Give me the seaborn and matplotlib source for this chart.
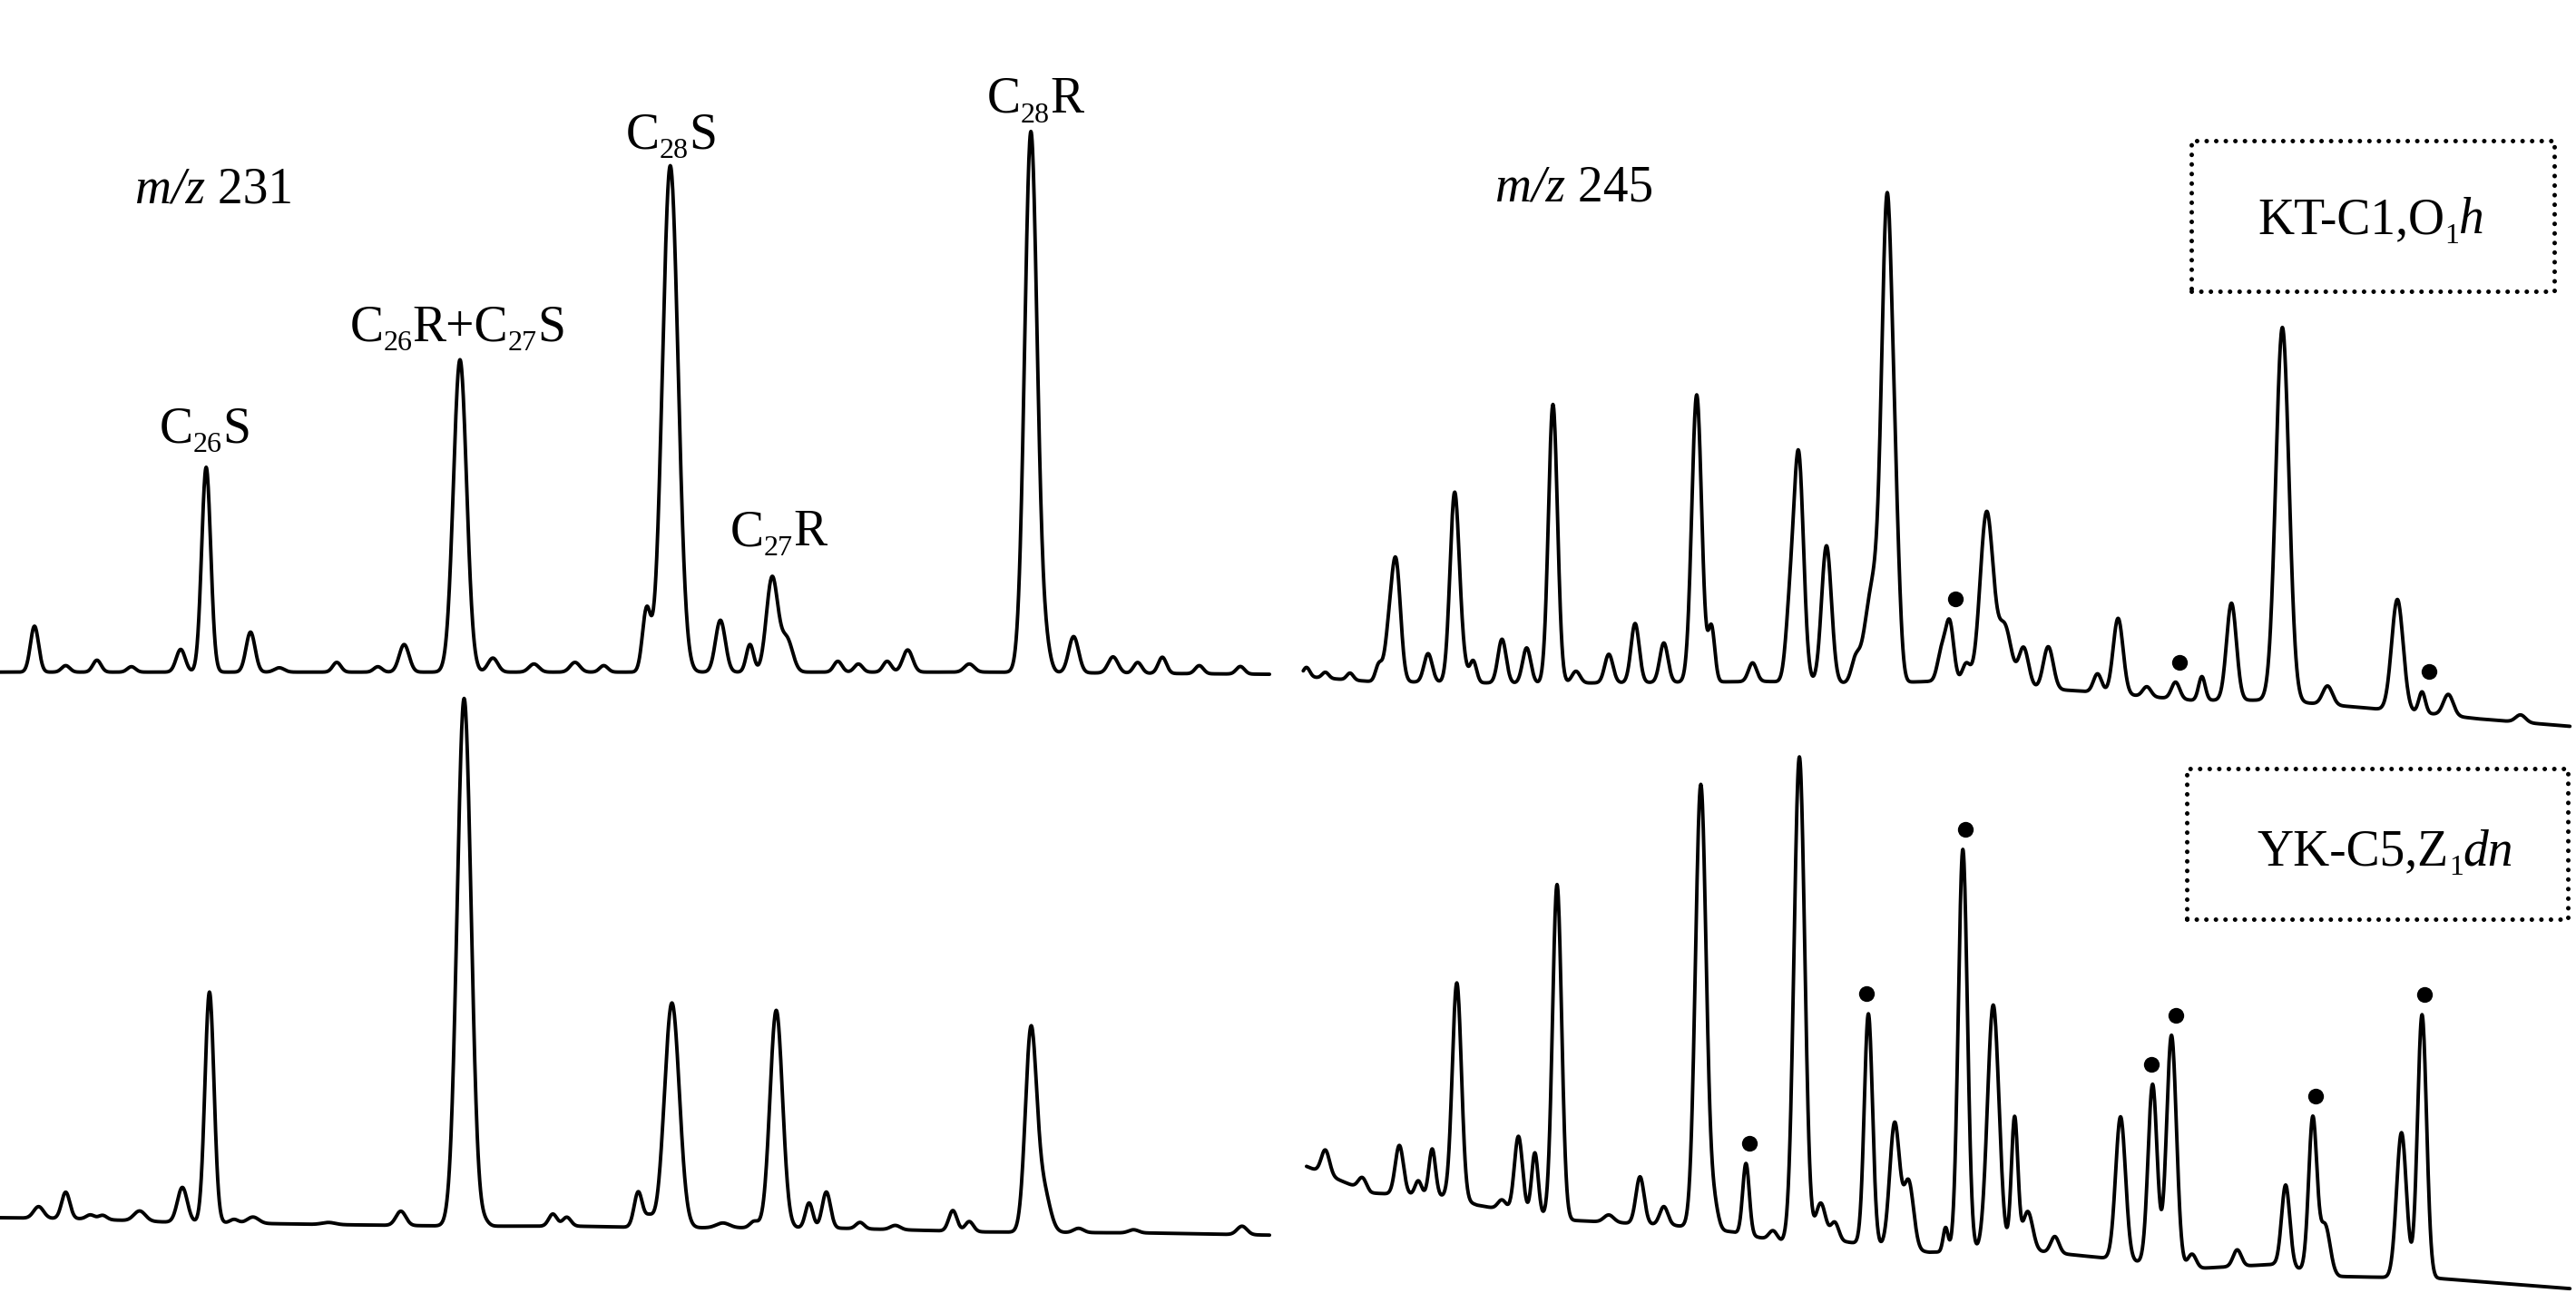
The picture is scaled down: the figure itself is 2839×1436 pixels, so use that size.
import numpy as np
import pandas as pd
import seaborn as sns
import matplotlib.pyplot as plt
from matplotlib.patches import Rectangle
from matplotlib import transforms

# ---------------------------------------------------------------- data
# peaks: scan number, abundance (% of largest peak), width (sigma, scans)
# m/z 231, KT-C1 (top left)
tl_pos = [42, 80, 118, 160, 220, 251, 305, 340, 410, 460, 492, 560, 600, 650, 700, 735,
          787, 816, 877, 913, 940, 958, 1020, 1045, 1080, 1105, 1180, 1255, 1272, 1307,
          1355, 1385, 1415, 1460, 1510]
tl_hgt = [8.5, 1.2, 2.2, 1.0, 4.2, 37.9, 7.4, 0.8, 1.8, 1.0, 5.1, 57.8, 2.6, 1.5, 1.8, 1.2,
          11.2, 93.7, 9.6, 5.1, 17.5, 6.0, 2.0, 1.5, 2.0, 4.1, 1.5, 100, 5.0, 6.7,
          3.0, 2.0, 3.0, 1.5, 1.4]
tl_sig = [5, 5, 5, 5, 5.5, 5.5, 5.5, 6, 5, 5, 6, 8, 6, 6, 6, 5,
          5, 9.5, 6, 4.5, 7, 7, 5, 5, 5, 6, 6, 7.6, 6, 6,
          6, 5, 5, 5, 5]
tl_knot_x = [0, 300, 600, 900, 1200, 1545]
tl_knot_y = [0, 0, 0, 0, 0, -0.4]

# m/z 231, YK-C5 (bottom left)
bl_pos = [47, 80, 110, 125, 170, 222, 255, 285, 308, 400, 488, 565, 590, 673, 690, 777,
          790, 818, 880, 918, 945, 985, 1006, 1047, 1090, 1160, 1180, 1255, 1270, 1313,
          1380, 1512]
bl_hgt = [2.2, 5.0, 0.8, 0.8, 1.9, 6.6, 43.7, 0.7, 1.2, 0.4, 2.7, 100, 0.8, 2.3, 1.7, 6.7,
          2.0, 42.6, 0.9, 1.2, 41.2, 4.7, 6.8, 1.2, 0.8, 3.9, 1.9, 37.7, 8.0, 0.8,
          0.6, 1.6]
bl_sig = [6, 5, 5, 5, 7, 6, 5.5, 5, 7, 8, 6, 8.5, 5, 5, 5, 5,
          5, 9, 8, 5, 7.6, 4.5, 5, 5, 6, 5, 5, 6.8, 8, 6,
          6, 6]
bl_knot_x = [0, 100, 200, 400, 560, 700, 800, 1000, 1200, 1400, 1545]
bl_knot_y = [0, -0.2, -0.8, -1.3, -1.6, -1.6, -1.9, -1.9, -2.7, -2.9, -3.3]

# m/z 245, KT-C1 (top right)
tr_pos = [22, 45, 75, 110, 122, 131, 170, 202, 210, 225, 260, 290, 322, 350, 390, 422,
          457, 497, 515, 565, 610, 621, 655, 690, 712, 729, 740, 795, 805, 825,
          850, 872, 895, 925, 985, 1010, 1045, 1080, 1112, 1148, 1210, 1265, 1350, 1380,
          1412, 1500]
tr_hgt = [1.9, 1.2, 1.4, 3.4, 8.0, 23.5, 5.8, 36.5, 5.0, 4.3, 8.9, 7.2, 56.6, 2.4, 5.8, 12.0,
          8.0, 58.3, 11.0, 3.8, 12.0, 46.0, 27.8, 4.0, 20.0, 93.0, 20.0, 6.0, 12.0, 4.0,
          35.0, 12.0, 8.0, 8.6, 3.8, 15.4, 2.0, 3.4, 4.8, 19.7, 75.8, 3.8, 22.6, 4.3,
          4.3, 1.5]
tr_sig = [4, 4, 4, 4, 5, 5.5, 5, 5.5, 6, 4, 5, 5, 5.5, 5, 5, 5,
          5, 6, 4, 5, 5, 6, 6, 5, 10, 6.5, 5, 5, 5, 5,
          8, 8, 6, 6, 5, 6, 5, 5, 4, 6, 8, 6, 7, 4,
          6, 6]
tr_knot_x = [18, 100, 300, 580, 700, 780, 960, 1100, 1200, 1300, 1400, 1450, 1560]
tr_knot_y = [0, -1.0, -1.4, -1.0, -1.4, -1.0, -2.9, -4.8, -4.8, -6.2, -7.7, -8.6, -10.1]
tr_dots = [812, 1085, 1388]

# m/z 245, YK-C5 (bottom right)
br_pos = [45, 90, 135, 158, 175, 205, 260, 280, 300, 327, 390, 428, 457, 502, 518, 557,
          590, 622, 648, 665, 706, 738, 755, 800, 821, 858, 884, 900, 933, 1013,
          1052, 1075, 1100, 1155, 1214, 1247, 1262, 1355, 1380]
br_hgt = [5.0, 2.5, 10.1, 3.0, 9.7, 44.4, 2.0, 15.7, 12.9, 69.0, 1.5, 9.7, 3.8, 91.5, 5.0, 14.7,
          2.0, 100, 8.0, 4.0, 47.6, 25.7, 14.0, 5.0, 82.9, 50.7, 27.4, 8.0, 3.4, 29.5,
          37.0, 47.6, 3.0, 3.4, 16.8, 31.6, 10.0, 29.9, 54.3]
br_sig = [5, 5, 5, 4, 4, 5.5, 5, 5, 4, 5.5, 6, 5, 5, 6.5, 5, 4,
          5, 6.5, 6, 5, 5, 6, 6, 3, 5.5, 7, 4, 6, 5, 6,
          5.5, 6, 5, 5, 5, 5, 6, 6, 5.5]
br_knot_x = [22, 100, 200, 230, 330, 470, 540, 600, 680, 780, 900, 1000, 1100, 1200, 1280, 1400, 1560]
br_knot_y = [0, -5.5, -6.3, -8.0, -11.0, -12.2, -13.5, -15.6, -15.6, -17.7, -17.3, -19.0, -21.1,
             -20.2, -22.7, -23.1, -25.2]
br_dots = [561, 704, 824, 1050, 1080, 1250, 1383]

# ---------------------------------------------------------------- style
sns.set_theme(style='white')
plt.rcParams['font.family'] = ['Liberation Serif', 'DejaVu Serif']
plt.rcParams['text.color'] = 'black'

W, H = 2839, 1436
fig = plt.figure(figsize=(W / 100, H / 100), dpi=100)
FS = 40
SUB = 23
renderer = fig.canvas.get_renderer()


def chrom(scans, pos, hgt, sig, kx, ky):
	y = np.interp(scans, kx, ky)
	for p, h, s in zip(pos, hgt, sig):
		y = y + h * np.exp(-0.5 * ((scans - p) / s) ** 2)
	return y


def panel(rect, x0, y0, ky, scans, pos, hgt, sig, kx, kyb, dots=None):
	# rect in pixels (left, top, right, bottom); x0: pixel of scan 0; y0: pixel of abundance 0
	l, t, r, b = rect
	ax = fig.add_axes([l / W, 1 - b / H, (r - l) / W, (b - t) / H])
	xs = 0.9053
	ax.set_xlim((l - x0) / xs, (r - x0) / xs)
	ax.set_ylim((y0 - b) / ky, (y0 - t) / ky)
	ax.axis('off')
	y = chrom(scans, pos, hgt, sig, kx, kyb)
	df = pd.DataFrame({'scan': scans, 'abundance': y})
	sns.lineplot(data=df, x='scan', y='abundance', ax=ax, color='black', lw=2.8,
		estimator=None, sort=False, legend=False)
	for ln in ax.lines:
		ln.set_clip_on(False)
	if dots:
		off = transforms.offset_copy(ax.transData, fig=fig, y=16, units='points')
		for d in dots:
			m = (scans > d - 10) & (scans < d + 10)
			ax.plot([d], [y[m].max()], 'o', color='black', ms=12.5, mew=0, transform=off, clip_on=False)
	return ax


sl = np.arange(0, 1546, 0.5)
sr1 = np.arange(18, 1560.5, 0.5)
sr2 = np.arange(22, 1560.5, 0.5)
panel((0, 0, 1420, 760), 0, 740.7, 5.957, sl, tl_pos, tl_hgt, tl_sig, tl_knot_x, tl_knot_y)
panel((0, 760, 1420, 1436), 0, 1342.0, 5.816, sl, bl_pos, bl_hgt, bl_sig, bl_knot_x, bl_knot_y)
panel((1420, 0, 2839, 800), 1420, 745.6, 5.43, sr1, tr_pos, tr_hgt, tr_sig, tr_knot_x, tr_knot_y, tr_dots)
panel((1420, 800, 2839, 1436), 1420, 1285.4, 5.347, sr2, br_pos, br_hgt, br_sig, br_knot_x, br_knot_y, br_dots)


def rich(x, y, parts, ha='center'):
	# parts: (text, kind) with kind 'n' normal, 'i' italic, 's' subscript
	texts = []
	for s, k in parts:
		size = SUB if k == 's' else FS
		t = fig.text(0, 0, s, fontsize=size, va='baseline', ha='left',
			style='italic' if k == 'i' else 'normal')
		texts.append((t, k))
	widths = [t.get_window_extent(renderer).width for t, k in texts]
	total = sum(widths)
	cx = x - total / 2 if ha == 'center' else x
	for (t, k), w in zip(texts, widths):
		dy = 11 if k == 's' else 0
		t.set_position((cx / W, 1 - (y + dy) / H))
		cx += w


rich(149, 223, [('m/z', 'i'), (' 231', 'n')], ha='left')
rich(1648, 222, [('m/z', 'i'), (' 245', 'n')], ha='left')
rich(226, 487, [('C', 'n'), ('26', 's'), ('S', 'n')])
rich(504, 375, [('C', 'n'), ('26', 's'), ('R+C', 'n'), ('27', 's'), ('S', 'n')])
rich(740, 163, [('C', 'n'), ('28', 's'), ('S', 'n')])
rich(858, 601, [('C', 'n'), ('27', 's'), ('R', 'n')])
rich(1141, 124, [('C', 'n'), ('28', 's'), ('R', 'n')])
rich(2613, 257, [('KT-C1,O', 'n'), ('1', 's'), ('h', 'i')])
rich(2629, 953, [('YK-C5,Z', 'n'), ('1', 's'), ('dn', 'i')])

for (x1, y1, x2, y2) in [(2415, 155, 2815, 321), (2410, 847, 2830, 1013)]:
	rc = Rectangle((x1 / W, 1 - y2 / H), (x2 - x1) / W, (y2 - y1) / H, transform=fig.transFigure,
		fill=False, ec='black', lw=3.6, ls=(0, (0.01, 2.1)), capstyle='round')
	fig.patches.append(rc)

plt.savefig('out.png', dpi=100)
plt.close()
